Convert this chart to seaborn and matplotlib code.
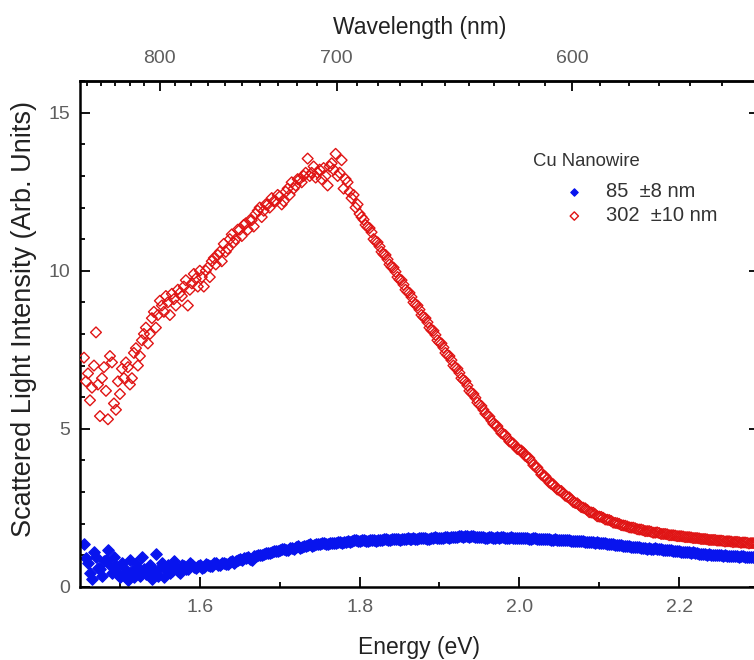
"""
Scattering spectra of Cu nanowires (energy axis with wavelength on top).
"""
import numpy as np
import pandas as pd
import matplotlib
matplotlib.use('Agg')
import matplotlib.pyplot as plt
import seaborn as sns
from matplotlib.ticker import MultipleLocator, FixedLocator

# energy grid of the measurement (eV); the second pass sits half a step later
e_start = 1.455
e_start_2 = 1.4575
e_step = 0.005

# 85 nm wire, intensity (arb. units), one value per energy step
small_wire = [
    1.35, 0.75, 0.25, 0.95, 0.55, 0.80, 1.15, 0.45, 0.65, 0.30,
    0.60, 0.20, 0.50, 0.75, 0.35, 0.55, 0.45, 0.25, 1.05, 0.60,
    0.30, 0.70, 0.50, 0.60, 0.45, 0.65, 0.55, 0.70, 0.60, 0.68,
    0.62, 0.70, 0.66, 0.74, 0.70, 0.76, 0.72, 0.80, 0.82, 0.87,
    0.90, 0.95, 0.85, 0.98, 1.02, 1.05, 1.08, 1.10, 1.14, 1.16,
    1.20, 1.15, 1.24, 1.26, 1.22, 1.30, 1.32, 1.30, 1.36, 1.34,
    1.38, 1.36, 1.40, 1.38, 1.42, 1.41, 1.44, 1.46, 1.48, 1.45,
    1.47, 1.44, 1.48, 1.46, 1.49, 1.50, 1.47, 1.50, 1.52, 1.49,
    1.51, 1.53, 1.50, 1.52, 1.55, 1.53, 1.51, 1.54, 1.56, 1.53,
    1.55, 1.57, 1.56, 1.58, 1.60, 1.57, 1.62, 1.59, 1.58, 1.56,
    1.57, 1.55, 1.56, 1.54, 1.55, 1.57, 1.54, 1.56, 1.53, 1.55,
    1.53, 1.54, 1.52, 1.53, 1.51, 1.52, 1.50, 1.49, 1.50, 1.48,
    1.47, 1.48, 1.46, 1.45, 1.46, 1.44, 1.42, 1.43, 1.40, 1.39,
    1.37, 1.36, 1.35, 1.33, 1.31, 1.30, 1.28, 1.27, 1.25, 1.26,
    1.23, 1.21, 1.20, 1.22, 1.18, 1.17, 1.15, 1.16, 1.13, 1.12,
    1.10, 1.11, 1.08, 1.06, 1.04, 1.05, 1.02, 1.00, 0.99, 1.00,
    0.98, 0.97, 0.98, 0.96, 0.95, 0.96, 0.94, 0.95, 0.94,
]
small_wire_2 = [
    0.90, 0.45, 1.10, 0.60, 0.35, 0.85, 0.70, 0.95, 0.40, 0.75,
    0.45, 0.85, 0.30, 0.60, 0.95, 0.40, 0.70, 0.50, 0.35, 0.75,
    0.55, 0.45, 0.80, 0.50, 0.70, 0.55, 0.75, 0.62, 0.66, 0.60,
    0.72, 0.66, 0.74, 0.68, 0.75, 0.72, 0.78, 0.76, 0.84, 0.86,
    0.92, 0.88, 0.96, 1.00, 1.00, 1.07, 1.06, 1.12, 1.12, 1.18,
    1.17, 1.22, 1.20, 1.28, 1.25, 1.30, 1.34, 1.33, 1.35, 1.37,
    1.36, 1.39, 1.38, 1.41, 1.40, 1.43, 1.42, 1.47, 1.46, 1.48,
    1.45, 1.49, 1.47, 1.48, 1.47, 1.50, 1.49, 1.51, 1.50, 1.52,
    1.50, 1.52, 1.54, 1.51, 1.53, 1.54, 1.52, 1.55, 1.54, 1.55,
    1.56, 1.55, 1.58, 1.57, 1.59, 1.60, 1.58, 1.60, 1.57, 1.58,
    1.55, 1.57, 1.54, 1.56, 1.56, 1.55, 1.55, 1.54, 1.55, 1.54,
    1.54, 1.52, 1.53, 1.52, 1.52, 1.50, 1.51, 1.49, 1.49, 1.47,
    1.48, 1.47, 1.45, 1.46, 1.45, 1.43, 1.43, 1.41, 1.41, 1.38,
    1.38, 1.35, 1.34, 1.32, 1.32, 1.29, 1.29, 1.26, 1.26, 1.24,
    1.24, 1.22, 1.20, 1.21, 1.19, 1.16, 1.17, 1.14, 1.14, 1.11,
    1.11, 1.09, 1.09, 1.07, 1.05, 1.04, 1.03, 1.01, 1.00, 0.99,
    0.99, 0.97, 0.97, 0.96, 0.96, 0.95, 0.95, 0.94, 0.93,
]

# 302 nm wire
large_wire = [
    7.25, 6.75, 6.30, 8.05, 5.40, 6.95, 5.30, 7.10, 5.60, 6.10,
    6.60, 6.95, 6.60, 7.55, 7.30, 8.00, 7.70, 8.50, 8.20, 9.05,
    8.70, 9.00, 9.27, 8.90, 9.30, 9.50, 8.90, 9.60, 9.75, 10.00,
    9.50, 10.10, 10.30, 10.20, 10.60, 10.85, 10.70, 11.15, 11.00, 11.30,
    11.45, 11.30, 11.60, 11.80, 12.00, 11.90, 12.10, 12.30, 12.20, 12.35,
    12.20, 12.60, 12.80, 12.70, 12.90, 13.00, 13.55, 13.10, 12.95, 13.20,
    13.25, 12.70, 13.40, 13.70, 13.10, 12.60, 12.80, 12.30, 12.00, 11.80,
    11.62, 11.38, 11.22, 10.93, 10.77, 10.52, 10.36, 10.12, 9.97, 9.72,
    9.56, 9.33, 9.17, 8.93, 8.77, 8.53, 8.37, 8.12, 7.97, 7.73,
    7.57, 7.33, 7.17, 6.93, 6.77, 6.54, 6.37, 6.13, 5.98, 5.76,
    5.60, 5.43, 5.26, 5.12, 4.96, 4.83, 4.70, 4.56, 4.45, 4.33,
    4.25, 4.10, 3.97, 3.80, 3.67, 3.50, 3.41, 3.25, 3.16, 3.05,
    2.96, 2.85, 2.76, 2.65, 2.58, 2.50, 2.43, 2.35, 2.29, 2.22,
    2.18, 2.12, 2.08, 2.02, 1.99, 1.94, 1.91, 1.87, 1.85, 1.81,
    1.79, 1.76, 1.74, 1.71, 1.70, 1.67, 1.66, 1.63, 1.62, 1.60,
    1.59, 1.57, 1.56, 1.54, 1.53, 1.51, 1.50, 1.48, 1.48, 1.46,
    1.45, 1.44, 1.43, 1.42, 1.41, 1.40, 1.39, 1.38, 1.37,
]
large_wire_2 = [
    6.50, 5.90, 7.00, 6.40, 6.60, 6.20, 7.30, 5.80, 6.50, 6.90,
    7.10, 6.40, 7.40, 7.00, 7.80, 8.20, 8.00, 8.70, 8.60, 8.90,
    9.20, 8.60, 9.10, 9.40, 9.20, 9.70, 9.40, 9.90, 9.50, 9.80,
    10.00, 9.80, 10.40, 10.50, 10.30, 10.60, 11.00, 10.90, 11.30, 11.10,
    11.50, 11.60, 11.40, 11.90, 11.70, 12.10, 12.00, 12.20, 12.40, 12.10,
    12.50, 12.40, 12.60, 12.90, 12.80, 13.10, 13.00, 13.30, 13.10, 12.90,
    13.00, 13.30, 13.20, 13.00, 13.50, 12.90, 12.50, 12.40, 12.10, 11.70,
    11.45, 11.35, 11.00, 10.90, 10.60, 10.50, 10.20, 10.10, 9.80, 9.70,
    9.40, 9.30, 9.00, 8.90, 8.60, 8.50, 8.20, 8.10, 7.80, 7.70,
    7.40, 7.30, 7.00, 6.90, 6.60, 6.50, 6.20, 6.10, 5.83, 5.72,
    5.48, 5.38, 5.16, 5.08, 4.86, 4.80, 4.60, 4.53, 4.36, 4.31,
    4.14, 4.07, 3.85, 3.77, 3.55, 3.49, 3.30, 3.24, 3.08, 3.03,
    2.88, 2.83, 2.68, 2.64, 2.52, 2.48, 2.36, 2.34, 2.23, 2.21,
    2.13, 2.11, 2.03, 2.01, 1.95, 1.93, 1.88, 1.87, 1.82, 1.81,
    1.76, 1.76, 1.71, 1.72, 1.67, 1.67, 1.63, 1.63, 1.60, 1.60,
    1.57, 1.57, 1.54, 1.54, 1.51, 1.51, 1.48, 1.48, 1.46, 1.46,
    1.43, 1.44, 1.41, 1.42, 1.39, 1.40, 1.37, 1.38, 1.36,
]

legend_title = 'Cu Nanowire'
series_labels = ['85  \u00b18 nm', '302  \u00b110 nm']
wl_major = [800, 700, 600]
wl_minor = list(range(540, 860, 10))

HC = 1239.84  # eV nm


def spectrum(first, second):
    df = pd.concat([
        pd.DataFrame({'energy': e_start + e_step * np.arange(len(first)),
                      'intensity': first}),
        pd.DataFrame({'energy': e_start_2 + e_step * np.arange(len(second)),
                      'intensity': second}),
    ])
    return df.sort_values('energy').reset_index(drop=True)


small_df = spectrum(small_wire, small_wire_2)
large_df = spectrum(large_wire, large_wire_2)

sns.set_style('ticks')
plt.rcParams['font.family'] = ['Liberation Sans', 'DejaVu Sans']

fig = plt.figure(figsize=(7.54, 6.6), dpi=100)
ax = fig.add_axes([0.1061, 0.111, 0.9005, 0.766])

sns.scatterplot(data=small_df, x='energy', y='intensity', ax=ax, marker='D',
                color='#0814ee', edgecolor='#0814ee', s=34, linewidth=0.9,
                label=series_labels[0], zorder=2)
sns.scatterplot(data=large_df, x='energy', y='intensity', ax=ax, marker='D',
                facecolor='none', edgecolor='#e01414', s=30, linewidth=1.0,
                label=series_labels[1], zorder=3)

ax.set_xlim(1.45, 2.3)
ax.set_ylim(0, 16)
ax.xaxis.set_major_locator(FixedLocator([1.6, 1.8, 2.0, 2.2]))
ax.xaxis.set_minor_locator(MultipleLocator(0.1))
ax.yaxis.set_major_locator(FixedLocator([0, 5, 10, 15]))
ax.yaxis.set_minor_locator(MultipleLocator(1))
ax.set_xticklabels(['1.6', '1.8', '2.0', '2.2'])

for sp in ax.spines.values():
    sp.set_linewidth(1.8)
    sp.set_color('black')

ax.tick_params(which='both', direction='in', top=False, right=True,
               width=1.3, color='black', labelcolor='#5e5e5e', labelsize=14)
ax.tick_params(which='major', length=7)
ax.tick_params(which='minor', length=3.5)
ax.tick_params(axis='x', pad=9)
ax.tick_params(axis='y', pad=7)

# wavelength axis on top
sec = ax.secondary_xaxis('top', functions=(lambda e: HC / e, lambda w: HC / w))
sec.xaxis.set_major_locator(FixedLocator(wl_major))
sec.xaxis.set_minor_locator(FixedLocator(wl_minor))
sec.tick_params(which='both', direction='in', width=1.3, color='black',
                labelcolor='#5e5e5e', labelsize=14, pad=10)
sec.tick_params(which='major', length=7)
sec.tick_params(which='minor', length=3.5)
sec.spines['top'].set_linewidth(1.8)
sec.set_xlabel('Wavelength (nm)', fontsize=16.5, color='#222222', labelpad=12)

ax.set_xlabel('Energy (eV)', fontsize=16.5, color='#222222', labelpad=14)
ax.set_ylabel('Scattered Light Intensity (Arb. Units)', fontsize=19.5,
              color='#222222')
ax.yaxis.set_label_coords(-0.064, 0.529)

fig.text(0.707, 0.756, legend_title, fontsize=13.3, color='#333333',
         ha='left', va='center')
leg = ax.legend(loc='upper left', bbox_to_anchor=(0.739, 0.736),
                bbox_transform=fig.transFigure, frameon=False, fontsize=14.5,
                labelcolor='#333333', handlelength=0.9, handletextpad=1.1,
                labelspacing=0.25, borderaxespad=0)
# small markers in the key, as in the original
for handle, size in zip(leg.legend_handles, [14, 18]):
    handle.set_sizes([size])

fig.savefig('out.png', dpi=100)
